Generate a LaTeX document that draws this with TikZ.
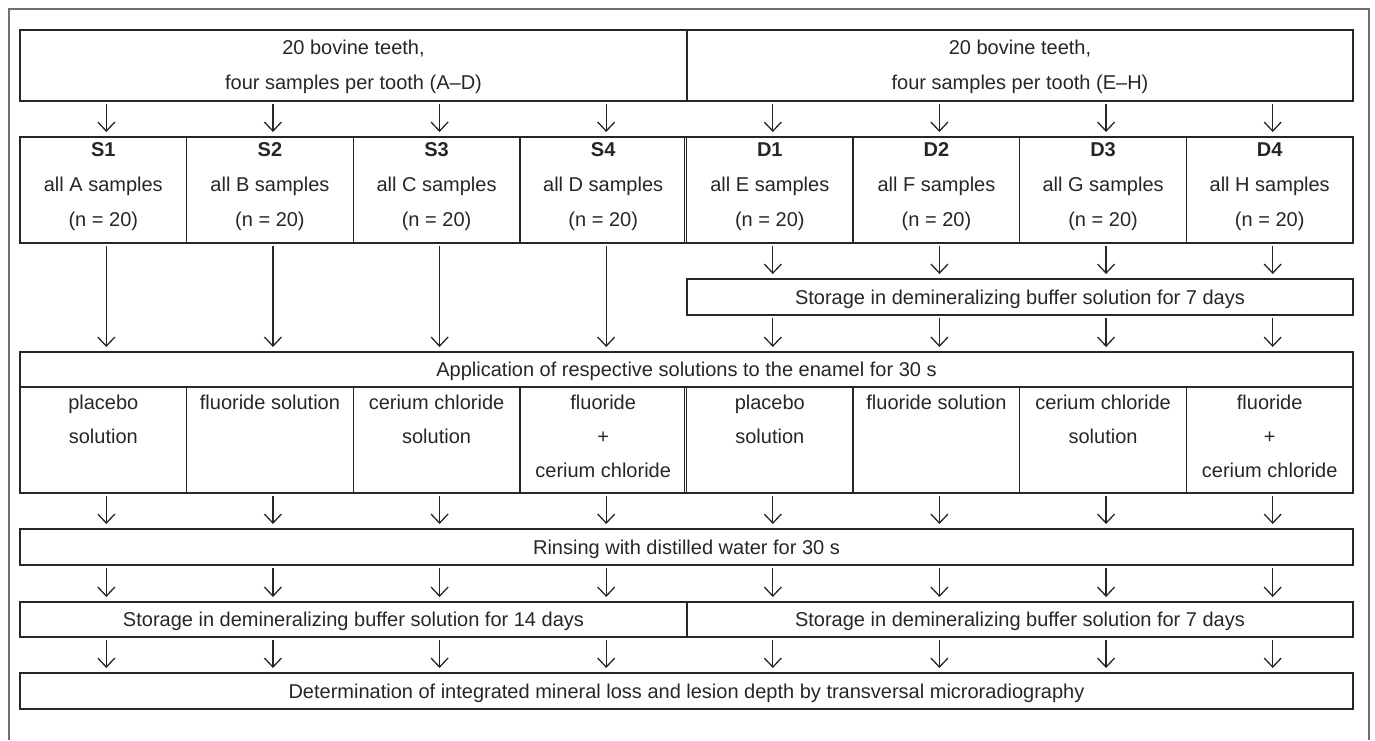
\documentclass[tikz,border=0pt]{standalone}
\usepackage{fontspec}
\setmainfont{Liberation Sans}
\usetikzlibrary{arrows.meta,calc}
\definecolor{ink}{HTML}{262626}
\definecolor{framec}{HTML}{707070}
\tikzset{
  cell/.style={draw=ink, line width=1.3pt, inner sep=0pt, outer sep=0pt, text=ink, align=center, font=\fontsize{20}{35}\selectfont},
  line1/.style={cell, text height=14.3pt, text depth=0pt},
  txt/.style={text=ink, inner sep=0pt, outer sep=0pt, align=center, font=\fontsize{20}{35}\selectfont},
  subtxt/.style={txt, font=\fontsize{20}{33.8}\selectfont},
  arr/.style={draw=ink, line width=1.3pt, -{Straight Barb[length=9pt,width=17pt]}, shorten <=3pt, shorten >=5pt},
}
\begin{document}
\begin{tikzpicture}[x=1pt,y=-1pt]
\useasboundingbox (0,0) rectangle (1375,740);
\draw[framec, line width=2pt] (9,740) -- (9,9) -- (1369,9) -- (1369,740);
\def\W{166.625}
% top boxes
\node[cell, minimum width=667pt, minimum height=71pt] (topL) at (353.5,65.5) {};
\node[cell, minimum width=666pt, minimum height=71pt] (topR) at (1020,65.5) {};
\node[txt, anchor=north] at ([yshift=-10pt]topL.north) {20 bovine teeth,\\four samples per tooth (A--D)};
\node[txt, anchor=north] at ([yshift=-10pt]topR.north) {20 bovine teeth,\\four samples per tooth (E--H)};
% group boxes and sub cells
\foreach \nm [count=\i] in {s1,s2,s3,s4,d1,d2,d3,d4} {
  \node[cell, minimum width=\W pt, minimum height=106pt] (\nm) at ({20+\W*(\i-0.5)},190) {};
  \node[cell, minimum width=\W pt, minimum height=106pt] (a\i) at ({20+\W*(\i-0.5)},440) {};
}
\foreach \nm/\lab/\smp in {s1/S1/A,s2/S2/B,s3/S3/C,s4/S4/D,d1/D1/E,d2/D2/F,d3/D3/G,d4/D4/H} {
  \node[txt, anchor=north] at ([yshift=-5.5pt]\nm.north) {\textbf{\lab}\\all \smp{} samples\\(n = 20)};
}
\foreach \i/\t in {1/{placebo\\solution},2/{fluoride solution},3/{cerium chloride\\solution},4/{fluoride\\+\\cerium chloride},5/{placebo\\solution},6/{fluoride solution},7/{cerium chloride\\solution},8/{fluoride\\+\\cerium chloride}} {
  \node[subtxt, anchor=north] at ([yshift=-8pt]a\i.north) {\t};
}
% double separators
\draw[ink, line width=1pt] ($(s4.north east)+(-1.6,0)$) -- ($(s4.south east)+(-1.6,0)$);
\draw[ink, line width=1pt] ($(a4.north east)+(-1.6,0)$) -- ($(a4.south east)+(-1.6,0)$);
% single-line boxes
\node[line1, minimum width=666pt, minimum height=36pt] (st7) at (1020,297) {Storage in demineralizing buffer solution for 7 days};
\node[line1, minimum width=1333pt, minimum height=35pt] (app) at (686.5,369.5) {Application of respective solutions to the enamel for 30 s};
\node[line1, minimum width=1333pt, minimum height=36pt] (rinse) at (686.5,547) {Rinsing with distilled water for 30 s};
\node[line1, minimum width=667pt, minimum height=35pt] (stL) at (353.5,619.5) {Storage in demineralizing buffer solution for 14 days};
\node[line1, minimum width=666pt, minimum height=35pt] (stR) at (1020,619.5) {Storage in demineralizing buffer solution for 7 days};
\node[line1, minimum width=1333pt, minimum height=36pt] (final) at (686.5,691) {Determination of integrated mineral loss and lesion depth by transversal microradiography};
% arrows
\foreach \nm in {s1,s2,s3,s4} {
  \draw[arr] ($(\nm.north |- topL.south)+(3,0)$) -- ($(\nm.north)+(3,0)$);
  \draw[arr] ($(\nm.south)+(3,0)$) -- ($(\nm.south |- app.north)+(3,0)$);
}
\foreach \nm in {d1,d2,d3,d4} {
  \draw[arr] ($(\nm.north |- topR.south)+(3,0)$) -- ($(\nm.north)+(3,0)$);
  \draw[arr] ($(\nm.south)+(3,0)$) -- ($(\nm.south |- st7.north)+(3,0)$);
  \draw[arr] ($(\nm.south |- st7.south)+(3,0)$) -- ($(\nm.south |- app.north)+(3,0)$);
}
\foreach \i in {1,...,8} {
  \draw[arr] ($(a\i.south)+(3,0)$) -- ($(a\i.south |- rinse.north)+(3,0)$);
}
\foreach \i in {1,2,3,4} {
  \draw[arr] ($(a\i.south |- rinse.south)+(3,0)$) -- ($(a\i.south |- stL.north)+(3,0)$);
  \draw[arr] ($(a\i.south |- stL.south)+(3,0)$) -- ($(a\i.south |- final.north)+(3,0)$);
}
\foreach \i in {5,6,7,8} {
  \draw[arr] ($(a\i.south |- rinse.south)+(3,0)$) -- ($(a\i.south |- stR.north)+(3,0)$);
  \draw[arr] ($(a\i.south |- stR.south)+(3,0)$) -- ($(a\i.south |- final.north)+(3,0)$);
}
\end{tikzpicture}
\end{document}
